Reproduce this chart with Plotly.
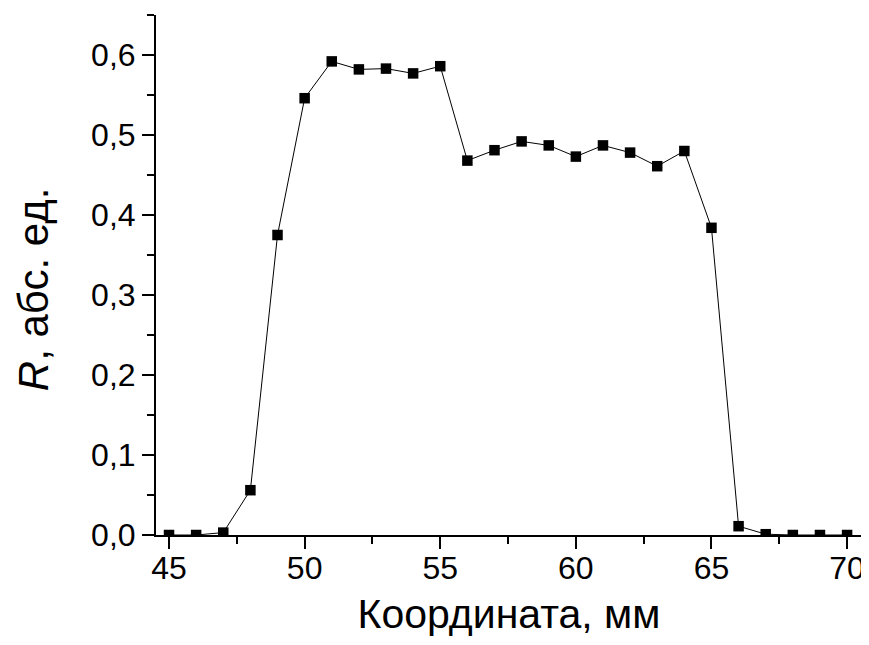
import plotly.graph_objects as go

x_mm = list(range(45, 71))
r_values = [0.0, 0.0, 0.003, 0.056, 0.375, 0.546, 0.592, 0.582, 0.583, 0.577, 0.586,
            0.468, 0.481, 0.492, 0.487, 0.473, 0.487, 0.478, 0.461, 0.480, 0.384,
            0.011, 0.001, 0.0, 0.0, 0.0]

x_title = "Координата, мм"
y_title = "<i>R</i>, абс. ед."

FONT = "Liberation Sans, Arial, sans-serif"

fig = go.Figure()
fig.add_trace(go.Scatter(
    x=x_mm, y=r_values, mode="lines+markers",
    line=dict(color="black", width=1),
    marker=dict(symbol="square", size=10.5, color="black"),
    showlegend=False,
))

axis_common = dict(
    showline=True, linecolor="black", linewidth=2,
    ticks="outside", ticklen=12, tickwidth=2, tickcolor="black",
    showgrid=False, zeroline=False, mirror=False, automargin=False,
    tickfont=dict(family=FONT, size=32, color="black"),
)

fig.update_xaxes(
    range=[44.52, 70.55], tick0=45, dtick=5, ticklabelstandoff=-8,
    minor=dict(ticks="outside", ticklen=7, tickwidth=2, tickcolor="black", dtick=2.5, tick0=45),
    title=dict(text=x_title, font=dict(family=FONT, size=41, color="black"), standoff=20),
    **axis_common,
)
fig.update_yaxes(
    range=[0, 0.65], tick0=0, dtick=0.1, tickformat=".1f",
    minor=dict(ticks="outside", ticklen=7, tickwidth=2, tickcolor="black", dtick=0.05, tick0=0),
    **axis_common,
)

# y-axis title placed as an annotation to match the reference position
fig.add_annotation(
    text=y_title, textangle=-90, showarrow=False,
    xref="paper", yref="paper", x=-0.174, y=0.473,
    xanchor="center", yanchor="middle",
    font=dict(family=FONT, size=42, color="black"),
)

# the page body adds an 8 px offset; compensate so the plot sits where the reference has it
fig.update_layout(
    width=861, height=629,
    margin=dict(l=148, r=7, t=7, b=102),
    paper_bgcolor="white", plot_bgcolor="white",
    separators=", ",
)

fig.write_html("out.html")
